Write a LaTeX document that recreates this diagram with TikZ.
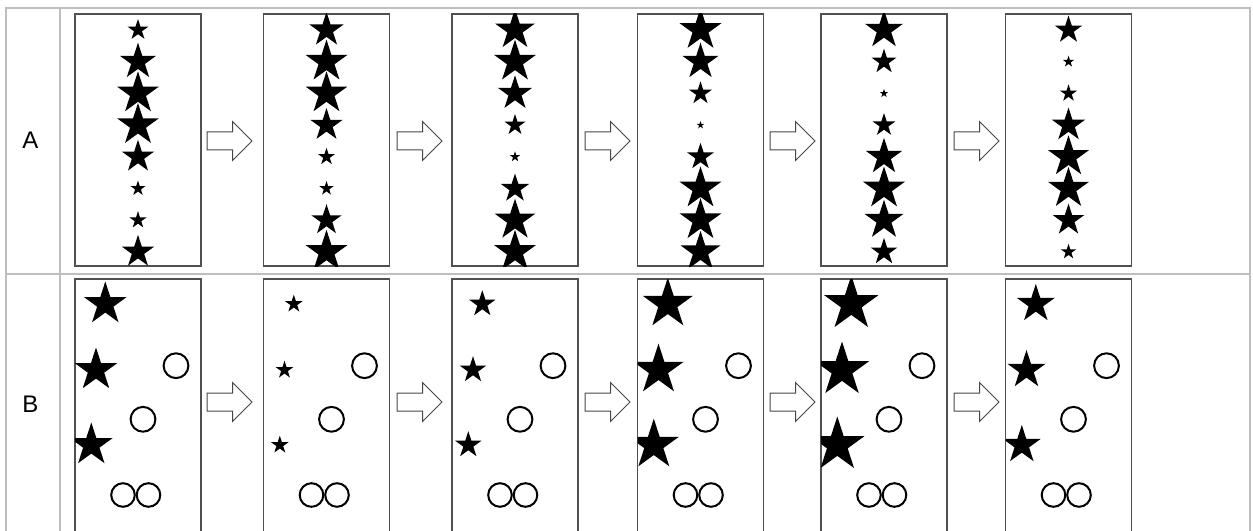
\documentclass[tikz,border=0pt]{standalone}
\usepackage{fontspec}
\setmainfont{Liberation Sans}
\usepackage{tikz}
\usetikzlibrary{shapes.geometric,calc}
\definecolor{gridgray}{RGB}{190,190,190}
\definecolor{framegray}{RGB}{80,80,80}
\definecolor{arrowgray}{RGB}{70,70,70}
\newcommand{\blockarrow}[2]{%
	\draw[blockarr] (#1,#2-9) -- ++(25.5,0) -- ++(0,-10.5) -- (#1+45,#2)
		-- (#1+25.5,#2+19.5) -- ++(0,-10.5) -- (#1,#2+9) -- cycle;}

\begin{document}
\begin{tikzpicture}[x=0.75pt,y=-0.75pt,
	panel/.style={draw=framegray,line width=1.1pt,minimum width=94.5pt,inner sep=0pt,outer sep=0pt},
	fstar/.style={star,star points=5,star point ratio=2.618,fill=black,inner sep=0pt,outer sep=0pt,minimum size=#1*1.5pt},
	ring/.style={circle,draw=black,line width=1.5pt,inner sep=0pt,minimum size=#1*1.5pt},
	blockarr/.style={draw=arrowgray,fill=white,line width=0.75pt,line join=miter},
	rowlabel/.style={font=\fontsize{18}{20}\selectfont}]
		\useasboundingbox (0,0) rectangle (1253,531);
		\clip (0,0) rectangle (1253,531);
		% table lines
		\draw[gridgray,line width=1.5pt] (6,540) |- (1250,8) -- (1250,540);
		\draw[gridgray,line width=1.5pt] (60,8) -- (60,540) (6,273.5) -- (1250,273.5);
		\node[rowlabel] (labA) at (30.5,140) {A};
		\node[rowlabel] (labB) at (30.5,404.5) {B};
		% panels
		\foreach \x [count=\i] in {75,263.5,452,637.5,821,1005.5} {
			\node[panel,minimum height=189pt] (a\i) at (\x+63,140) {};
			\node[panel,minimum height=195.75pt] (b\i) at (\x+63,409.5) {};
		}
		% row A
		\foreach \i/\sizes in {1/{11,19,22,22,17,8,9,17},2/{18,22,22,17,9,7.5,16,22},
			3/{21,22,18,11,5.5,15,21.5,22},4/{22,19,12,4,14,22,22,21},
			5/{20,13,4.5,12,19,22,20.5,14},6/{14.5,6,9,17.5,21.5,21.5,16.5,8}} {
			\begin{scope}
				\clip (a\i.south west) rectangle (a\i.north east);
				\foreach \r [count=\j] in \sizes
					\node[fstar=\r] (sa\i-\j) at ($(a\i.north)+(0,{16+31.7*(\j-1)})$) {};
			\end{scope}
		}
		% row B
		\foreach \i/\r in {1/22.5,2/9.3,3/13.8,4/26.3,5/28.5,6/20} {
			\begin{scope}
				\clip (b\i.south west) rectangle (b\i.north east);
				\node[fstar=\r] (sb\i-1) at ($(b\i.north west)+(30.3,25)$) {};
				\node[fstar=\r] (sb\i-2) at ($(b\i.north west)+(21,91)$) {};
				\node[fstar=\r] (sb\i-3) at ($(b\i.north west)+(16.3,166)$) {};
			\end{scope}
			\node[ring=12.4] (cb\i-1) at ($(b\i.north west)+(101,86.7)$) {};
			\node[ring=12.4] (cb\i-2) at ($(b\i.north west)+(68,140.3)$) {};
			\node[ring=11.8] (cb\i-3) at ($(b\i.north west)+(48,216)$) {};
			\node[ring=11.8] (cb\i-4) at ($(b\i.north west)+(73.5,216)$) {};
		}
		% arrows
		\foreach \x in {207,397,585,770,954} {
			\blockarrow{\x}{141}
			\blockarrow{\x}{402}
		}
\end{tikzpicture}
\end{document}
